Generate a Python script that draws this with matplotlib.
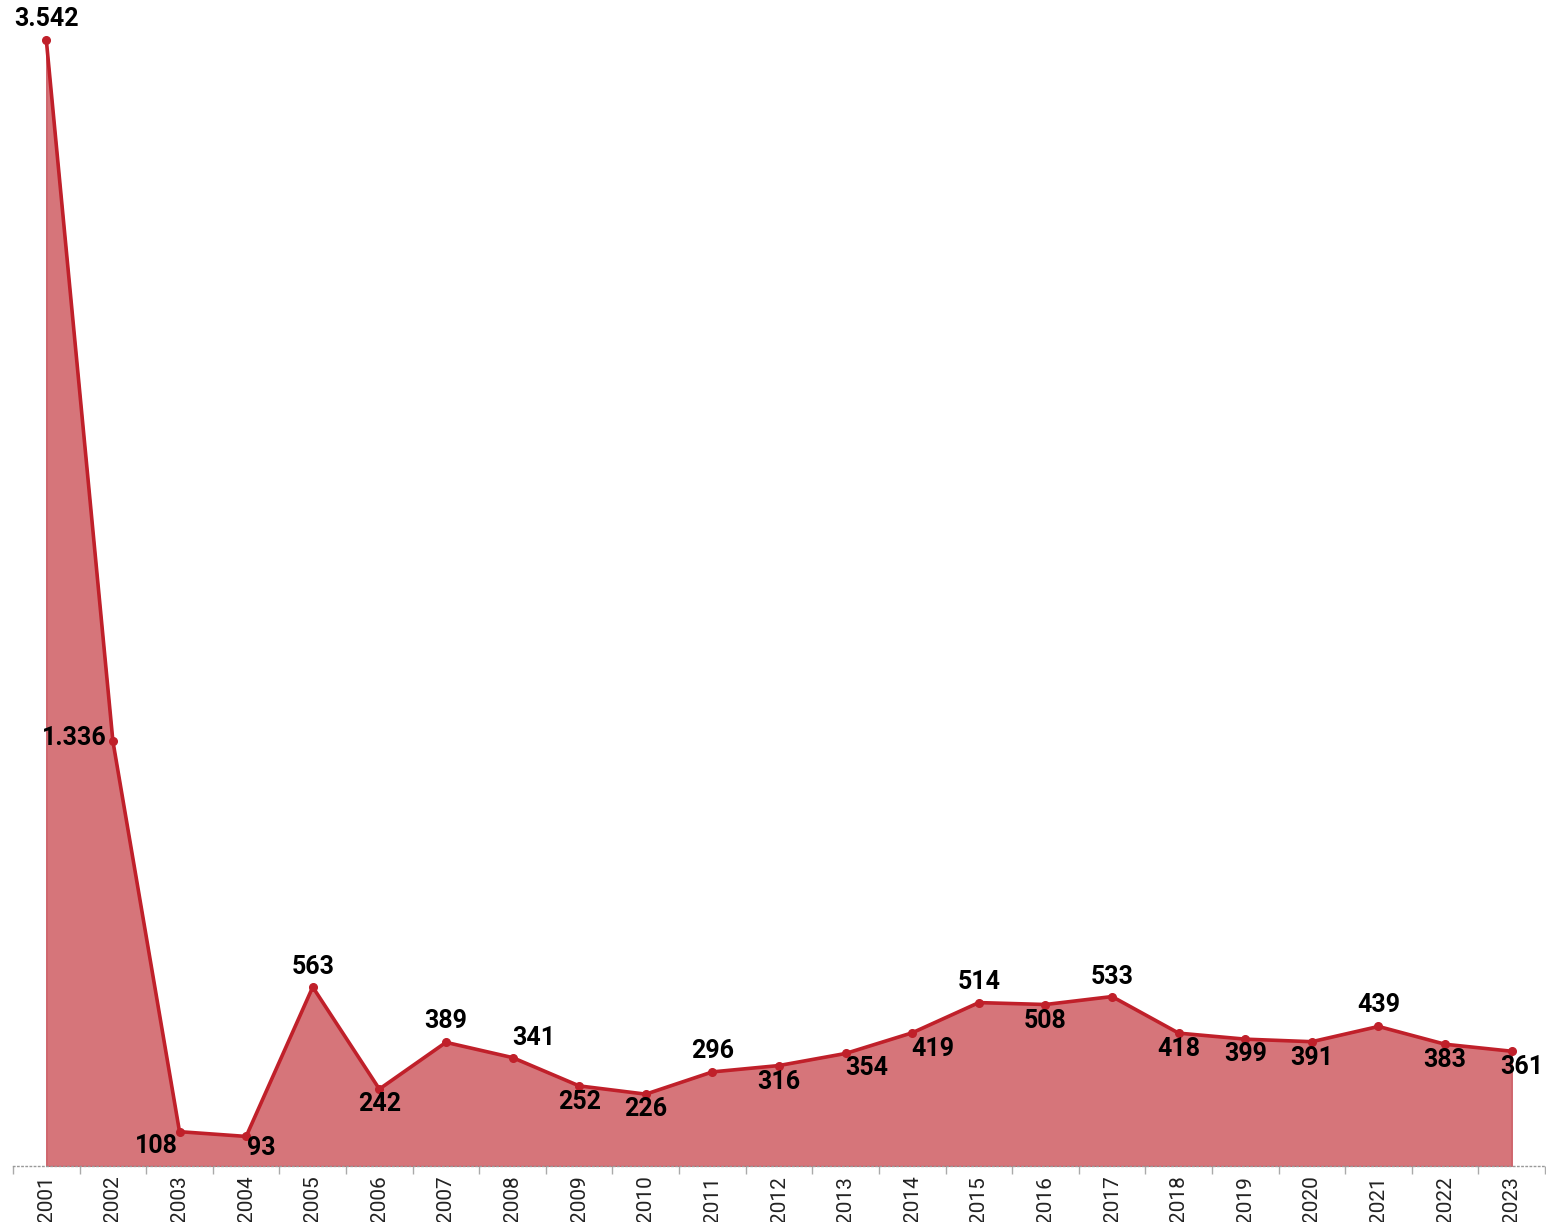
import matplotlib.pyplot as plt
import numpy as np

years = [str(y) for y in range(2001, 2024)]
values = [3542, 1336, 108, 93, 563, 242, 389, 341, 252, 226, 296, 316,
          354, 419, 514, 508, 533, 418, 399, 391, 439, 383, 361]

# label placement, offsets in pixels from each point (dx, dy, ha)
label_offsets = [
    (0, 21, "center"), (-6, 3, "right"), (-23, -14, "center"), (15, -12, "center"),
    (0, 20, "center"), (0, -15, "center"), (0, 21, "center"), (21, 20, "center"),
    (0, -16, "center"), (0, -15, "center"), (0, 21, "center"), (0, -16, "center"),
    (21, -15, "center"), (21, -16, "center"), (0, 21, "center"), (0, -16, "center"),
    (0, 20, "center"), (0, -16, "center"), (0, -15, "center"), (0, -16, "center"),
    (0, 21, "center"), (0, -16, "center"), (10, -16, "center"),
]

LINE = "#c0202a"
FILL = "#d6757a"


def fmt(v: int) -> str:
    return f"{v:,}".replace(",", ".")


fig = plt.figure(figsize=(15.46, 12.22), dpi=100)
ax = fig.add_axes([13 / 1546, 56 / 1222, 1532 / 1546, 1126 / 1222])

x = np.arange(len(years))
ax.fill_between(x, values, 0, color=FILL, linewidth=1, edgecolor="#cc5a62", zorder=1)
ax.plot(x, values, color=LINE, linewidth=2.6, marker="o", markersize=5.5,
        zorder=3, clip_on=False)

for xi, v, (dx, dy, ha) in zip(x, values, label_offsets):
    ax.annotate(fmt(v), (xi, v), xytext=(dx, dy), textcoords="offset pixels",
                ha=ha, va="center", fontsize=18, fontweight="bold",
                family=["Roboto", "DejaVu Sans"], color="black", zorder=4,
                annotation_clip=False)

ax.set_xlim(-0.5, len(years) - 0.5)
ax.set_ylim(0, max(values))

for side in ["top", "right", "left"]:
    ax.spines[side].set_visible(False)
ax.spines["bottom"].set_linestyle((0, (1, 2)))
ax.spines["bottom"].set_color("#999999")
ax.spines["bottom"].set_linewidth(1)

ax.set_yticks([])
ax.set_xticks(x)
ax.set_xticklabels(years, rotation=90, fontsize=15, family=["Roboto", "DejaVu Sans"],
                   color="#222222")
ax.tick_params(axis="x", which="major", length=0, pad=7)
ax.set_xticks(np.arange(-0.5, len(years), 1), minor=True)
ax.tick_params(axis="x", which="minor", length=6, color="#aaaaaa", width=1)

fig.savefig("out.png", dpi=100)
